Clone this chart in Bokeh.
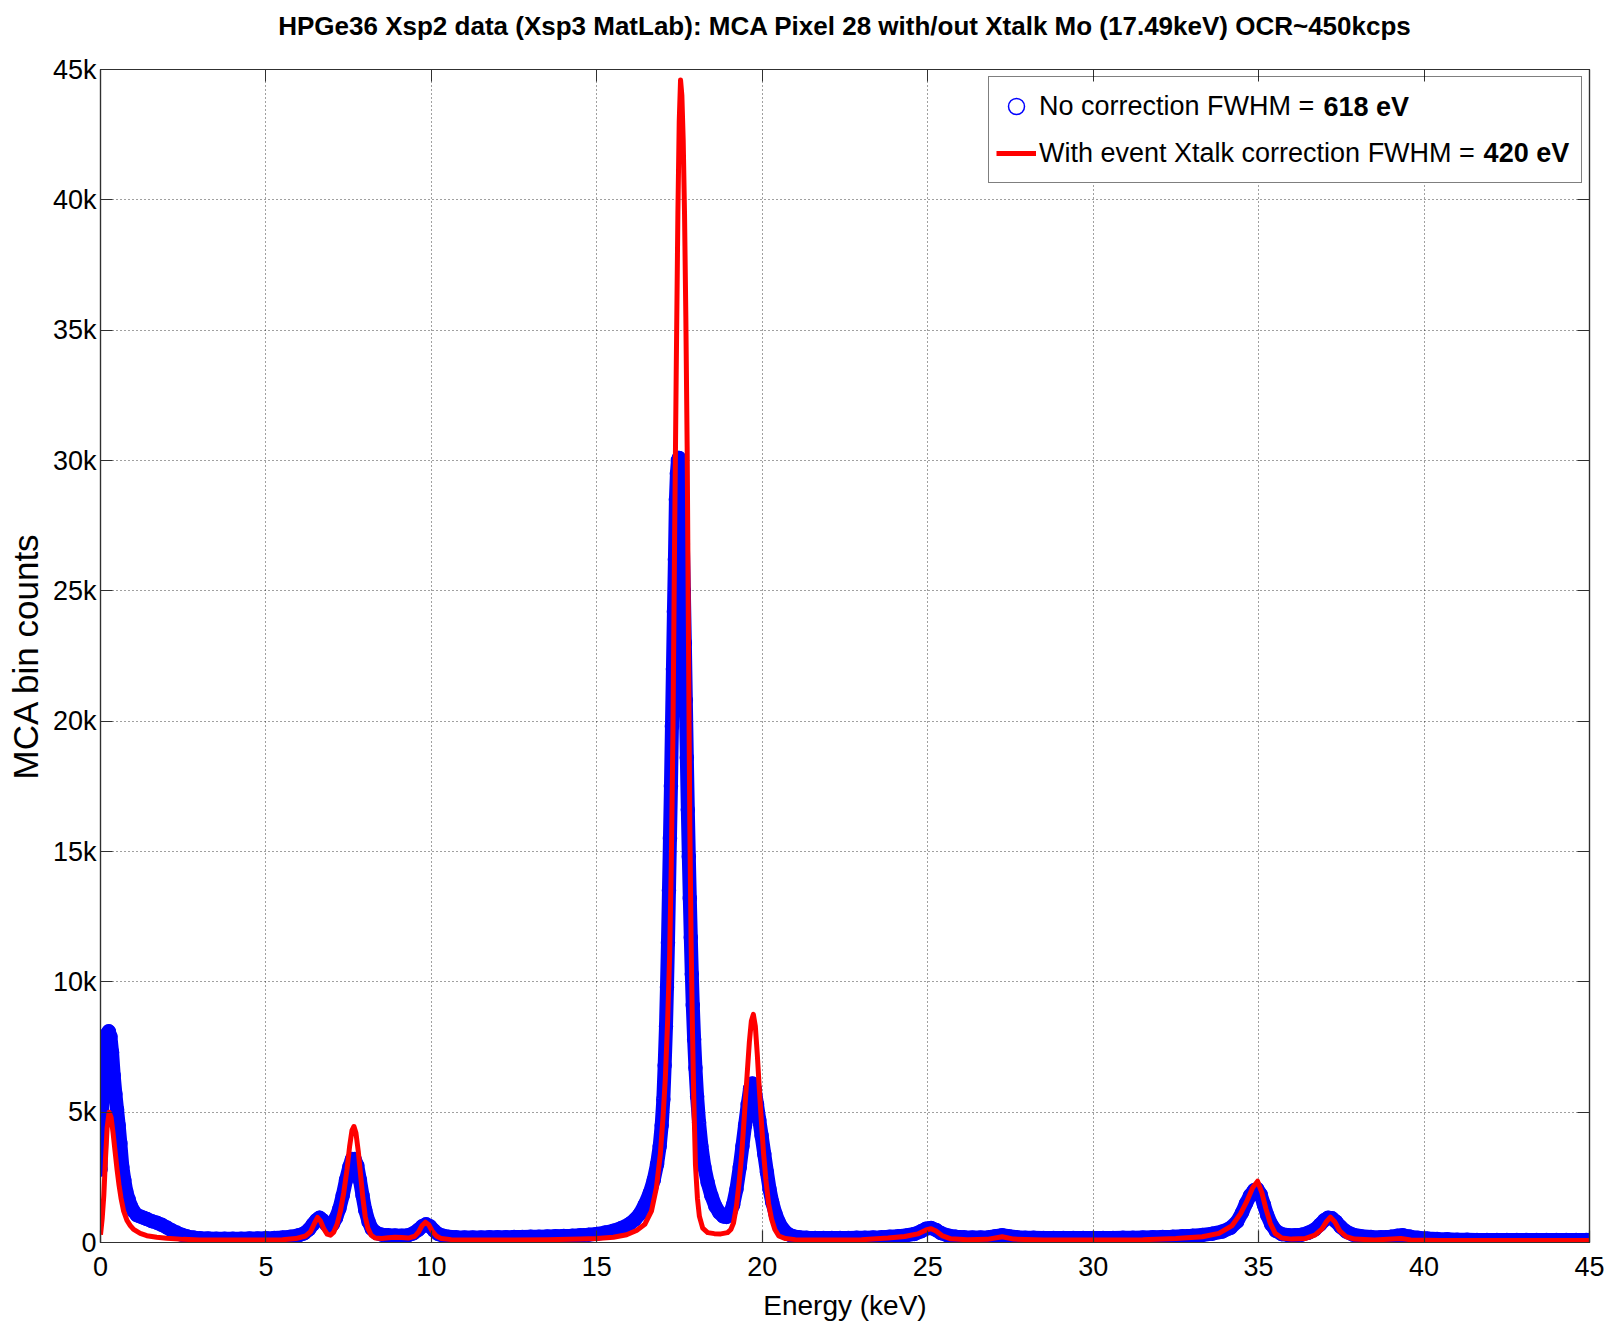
from bokeh.plotting import figure
from bokeh.models import (FixedTicker, LinearAxis, Range1d, Legend, LegendItem,
                          Label, ColumnDataSource, BoxAnnotation)
from bokeh.embed import file_html
from bokeh.resources import INLINE

# ---- spectrum without crosstalk correction (keV, counts) ----
e_nocorr = [
    0.00, 0.03, 0.06, 0.10, 0.15, 0.20, 0.25, 0.30, 0.35, 0.40, 0.45, 0.50, 0.55, 0.60,
    0.66, 0.72, 0.78, 0.85, 0.92, 1.00, 1.10, 1.20, 1.30, 1.40, 1.55, 1.70, 1.85, 2.00,
    2.15, 2.30, 2.45, 2.60, 2.80, 3.00, 3.25, 3.50, 3.75, 4.00, 4.25, 4.50, 4.75, 5.00,
    5.25, 5.50, 5.75, 6.00, 6.15, 6.30, 6.42, 6.52, 6.62, 6.72, 6.82, 6.92, 7.02, 7.12,
    7.22, 7.32, 7.42, 7.52, 7.60, 7.68, 7.76, 7.84, 7.92, 8.00, 8.10, 8.20, 8.35, 8.50,
    8.70, 8.90, 9.10, 9.30, 9.45, 9.60, 9.72, 9.84, 9.96, 10.08, 10.20, 10.35, 10.50,
    10.75, 11.00, 11.25, 11.50, 11.75, 12.00, 12.25, 12.50, 12.75, 13.00, 13.25, 13.50,
    13.75, 14.00, 14.25, 14.50, 14.75, 15.00, 15.25, 15.50, 15.75, 16.00, 16.15, 16.30,
    16.45, 16.60, 16.72, 16.82, 16.90, 16.96, 17.01, 17.05, 17.09, 17.12, 17.15, 17.18,
    17.21, 17.24, 17.27, 17.30, 17.33, 17.36, 17.39, 17.42, 17.45, 17.48, 17.51, 17.54,
    17.57, 17.60, 17.63, 17.66, 17.69, 17.72, 17.75, 17.78, 17.81, 17.84, 17.87, 17.90,
    17.94, 17.98, 18.03, 18.09, 18.16, 18.25, 18.35, 18.46, 18.58, 18.70, 18.82, 18.92,
    19.02, 19.12, 19.22, 19.32, 19.40, 19.48, 19.56, 19.63, 19.70, 19.77, 19.84, 19.91,
    19.98, 20.06, 20.14, 20.22, 20.30, 20.40, 20.50, 20.62, 20.75, 20.90, 21.10, 21.35,
    21.60, 21.85, 22.10, 22.35, 22.60, 22.85, 23.10, 23.35, 23.60, 23.85, 24.10, 24.35,
    24.60, 24.80, 24.95, 25.10, 25.25, 25.40, 25.60, 25.85, 26.10, 26.35, 26.60, 26.85,
    27.05, 27.25, 27.45, 27.70, 27.95, 28.20, 28.50, 28.80, 29.10, 29.40, 29.70, 30.00,
    30.30, 30.60, 30.90, 31.20, 31.50, 31.80, 32.10, 32.40, 32.70, 33.00, 33.30, 33.60,
    33.90, 34.15, 34.35, 34.50, 34.62, 34.74, 34.86, 34.96, 35.06, 35.16, 35.26, 35.38,
    35.52, 35.70, 35.90, 36.10, 36.30, 36.50, 36.70, 36.85, 36.98, 37.10, 37.22, 37.34,
    37.48, 37.65, 37.85, 38.10, 38.40, 38.70, 39.00, 39.20, 39.35, 39.55, 39.80, 40.10,
    40.40, 40.70, 41.00, 41.30, 41.60, 41.90, 42.20, 42.50, 42.80, 43.10, 43.40, 43.70,
    44.00, 44.30, 44.60, 44.90, 45.00,
]
counts_nocorr = [
    2800, 4200, 5600, 6800, 7600, 8000, 8100, 7900, 7300, 6400, 5700, 5100, 4500, 3800,
    2900, 2400, 1950, 1650, 1400, 1200, 1050, 1000, 950, 900, 820, 760, 680, 580,
    470, 380, 300, 240, 190, 160, 150, 140, 140, 140, 145, 150, 150, 160,
    170, 190, 220, 280, 350, 500, 700, 850, 950, 850, 700, 620, 700, 950,
    1300, 1800, 2400, 2900, 3200, 3200, 2950, 2400, 1800, 1250, 800, 520, 360, 300,
    280, 270, 260, 280, 350, 480, 620, 700, 620, 460, 330, 260, 220,
    200, 190, 190, 190, 200, 200, 200, 210, 210, 220, 220, 230,
    240, 250, 260, 280, 300, 330, 380, 450, 560, 720, 880, 1100,
    1450, 1900, 2400, 3000, 3700, 4500, 5500, 6800, 8300, 9800, 11500, 13500,
    15500, 17500, 19800, 22000, 24200, 26200, 28500, 29500, 30000, 30100, 29900, 29300,
    28300, 26800, 25000, 23000, 20800, 18600, 16600, 14800, 13200, 11700, 10300, 9100,
    7800, 6700, 5600, 4600, 3700, 2900, 2300, 1800, 1400, 1150, 1000, 980,
    1100, 1450, 2050, 2900, 3700, 4500, 5300, 5900, 6100, 5900, 5300, 4700,
    4100, 3400, 2700, 2050, 1550, 1100, 780, 520, 350, 250, 200, 180,
    170, 170, 170, 170, 175, 180, 185, 190, 200, 220, 240, 270,
    330, 430, 530, 560, 480, 360, 270, 220, 200, 190, 190, 200,
    240, 280, 240, 200, 185, 180, 175, 175, 170, 170, 170, 170,
    170, 175, 180, 185, 190, 200, 210, 220, 240, 260, 290, 340,
    420, 560, 800, 1150, 1500, 1800, 2000, 2050, 1850, 1450, 1050, 700,
    450, 320, 280, 280, 300, 370, 500, 680, 850, 950, 930, 800,
    600, 420, 300, 240, 210, 200, 220, 260, 280, 230, 180, 150,
    130, 120, 110, 105, 100, 100, 100, 100, 100, 100, 100, 100,
    100, 100, 100, 100, 100,
]

# ---- spectrum with event crosstalk correction (keV, counts) ----
e_xtalk = [
    0.00, 0.05, 0.10, 0.15, 0.20, 0.26, 0.32, 0.38, 0.44, 0.50, 0.56, 0.62, 0.70, 0.80,
    0.90, 1.00, 1.20, 1.40, 1.70, 2.00, 2.50, 3.00, 4.00, 5.00, 5.50, 5.90, 6.20, 6.35,
    6.47, 6.56, 6.65, 6.75, 6.85, 6.95, 7.05, 7.15, 7.25, 7.35, 7.45, 7.53, 7.60, 7.66,
    7.72, 7.79, 7.86, 7.93, 8.00, 8.08, 8.18, 8.30, 8.50, 8.70, 8.90, 9.10, 9.30, 9.50,
    9.62, 9.72, 9.82, 9.92, 10.02, 10.15, 10.30, 10.60, 11.50, 12.50, 13.50, 14.50,
    15.00, 15.50, 15.90, 16.20, 16.45, 16.65, 16.80, 16.92, 17.00, 17.07, 17.14, 17.20,
    17.25, 17.30, 17.35, 17.40, 17.45, 17.49, 17.53, 17.57, 17.61, 17.65, 17.69, 17.73,
    17.77, 17.81, 17.85, 17.89, 17.93, 17.98, 18.04, 18.10, 18.20, 18.35, 18.55, 18.75,
    18.95, 19.05, 19.13, 19.22, 19.30, 19.38, 19.46, 19.54, 19.61, 19.67, 19.73, 19.79,
    19.85, 19.91, 19.97, 20.04, 20.11, 20.19, 20.28, 20.38, 20.50, 20.70, 21.00, 22.00,
    23.00, 23.80, 24.30, 24.70, 24.95, 25.10, 25.25, 25.45, 25.70, 26.20, 26.80, 27.25,
    27.60, 28.50, 30.00, 31.50, 32.50, 33.30, 33.80, 34.20, 34.45, 34.65, 34.82, 34.97,
    35.10, 35.22, 35.35, 35.50, 35.70, 36.00, 36.40, 36.70, 36.90, 37.05, 37.17, 37.30,
    37.45, 37.65, 37.90, 38.50, 39.30, 39.60, 40.50, 42.00, 43.50, 45.00,
]
counts_xtalk = [
    300, 900, 1800, 3200, 4400, 5000, 4800, 4200, 3500, 2800, 2200, 1700, 1200, 850,
    650, 500, 350, 260, 200, 160, 120, 100, 100, 100, 110, 150, 250, 420,
    750, 960, 820, 520, 320, 280, 400, 700, 1200, 1900, 2800, 3700, 4300, 4450,
    4200, 3500, 2600, 1700, 1000, 550, 280, 170, 150, 180, 200, 190, 170, 240,
    420, 650, 780, 680, 450, 250, 150, 110, 100, 100, 110, 130,
    150, 200, 300, 460, 700, 1200, 2100, 3400, 4800, 6300, 8500, 11000,
    14500, 19500, 27000, 33500, 39500, 43000, 44600, 44000, 42300, 39500, 35500, 30500,
    23000, 16000, 11500, 8200, 5500, 3000, 1700, 1000, 550, 380, 340, 330,
    380, 500, 750, 1400, 2300, 3400, 4900, 6400, 7700, 8500, 8750, 8300,
    7200, 5900, 4700, 3400, 2400, 1500, 900, 500, 250, 150, 110, 100,
    110, 170, 230, 330, 480, 530, 440, 250, 140, 110, 120, 220,
    130, 100, 100, 110, 150, 220, 350, 650, 1100, 1600, 2100, 2350,
    1900, 1300, 750, 350, 170, 130, 150, 280, 500, 800, 970, 800,
    450, 220, 130, 100, 150, 100, 80, 80, 80, 80,
]

# ---- axis ticks ----
x_ticks = [0, 5, 10, 15, 20, 25, 30, 35, 40, 45]
y_ticks = [0, 5000, 10000, 15000, 20000, 25000, 30000, 35000, 40000, 45000]
y_tick_labels = ["0", "5k", "10k", "15k", "20k", "25k", "30k", "35k", "40k", "45k"]

title_text = ("HPGe36 Xsp2 data (Xsp3 MatLab): MCA Pixel 28 with/out Xtalk Mo "
              "(17.49keV) OCR~450kcps")
legend_labels = ["No correction FWHM = ", "With event Xtalk correction FWHM = "]
legend_values = ["618 eV", "420 eV"]

FONT = "Liberation Sans"
BLUE = "#0000ff"
RED = "#ff0000"
AXIS_COLOR = "#303030"

p = figure(width=1612, height=1330, output_backend="svg", toolbar_location=None,
           title=None, x_range=Range1d(0, 45), y_range=Range1d(0, 45000),
           min_border_left=100, min_border_right=23, min_border_top=69,
           min_border_bottom=88, background_fill_color="white",
           border_fill_color="white")

src_nc = ColumnDataSource(dict(e=e_nocorr, c=counts_nocorr))
src_xt = ColumnDataSource(dict(e=e_xtalk, c=counts_xtalk))

# uncorrected spectrum: dense hollow circles on a solid band
p.line("e", "c", source=src_nc, line_color=BLUE, line_width=14,
       line_join="round", line_cap="round")
r_circ = p.scatter("e", "c", source=src_nc, marker="circle", size=13,
                   line_color=BLUE, line_width=1.5, fill_color=None)
# corrected spectrum
r_red = p.line("e", "c", source=src_xt, line_color=RED, line_width=5,
               line_join="round")

xt = FixedTicker(ticks=x_ticks)
yt = FixedTicker(ticks=y_ticks)

for ax in p.xaxis:
    ax.ticker = xt
for ax in p.yaxis:
    ax.ticker = yt
p.xgrid.ticker = xt
p.ygrid.ticker = yt

p.yaxis.major_label_overrides = {t: s for t, s in zip(y_ticks, y_tick_labels)}

for ax in list(p.xaxis) + list(p.yaxis):
    ax.axis_line_color = AXIS_COLOR
    ax.axis_line_width = 1.2
    ax.major_tick_line_color = AXIS_COLOR
    ax.major_tick_line_width = 1.2
    ax.major_tick_in = 12
    ax.major_tick_out = 0
    ax.minor_tick_in = 0
    ax.minor_tick_out = 0
    ax.major_label_text_font = FONT
    ax.major_label_text_font_size = "27px"
    ax.major_label_text_color = "black"
    ax.axis_label_text_font_style = "normal"
    ax.axis_label_text_color = "black"

p.xaxis.major_label_standoff = 14
p.yaxis.major_label_standoff = 4
p.xaxis.axis_label = "Energy (keV)"
p.xaxis.axis_label_text_font = FONT
p.xaxis.axis_label_text_font_size = "28px"
p.xaxis.axis_label_standoff = 11
p.yaxis.axis_label = "MCA bin counts"
p.yaxis.axis_label_text_font = FONT
p.yaxis.axis_label_text_font_size = "35px"
p.yaxis.axis_label_standoff = 5

# box ticks on the top edge; its axis label carries the chart heading
top_ax = LinearAxis(ticker=xt, major_label_overrides={t: "" for t in x_ticks},
                    major_tick_in=12, major_tick_out=0, minor_tick_in=0,
                    minor_tick_out=0, axis_line_color=AXIS_COLOR,
                    major_tick_line_color=AXIS_COLOR, axis_line_width=1.2,
                    major_label_standoff=0,
                    axis_label=title_text, axis_label_text_font=FONT,
                    axis_label_text_font_size="26px",
                    axis_label_text_font_style="bold",
                    axis_label_text_color="black", axis_label_standoff=29)
# box ticks on the right edge (no labels)
right_ax = LinearAxis(ticker=yt, major_label_overrides={t: "" for t in y_ticks},
                      major_tick_in=12, major_tick_out=0, minor_tick_in=0,
                      minor_tick_out=0, axis_line_color=AXIS_COLOR,
                      major_tick_line_color=AXIS_COLOR, axis_line_width=1.2,
                      major_label_standoff=0)
p.add_layout(top_ax, "above")
p.add_layout(right_ax, "right")

for g in (p.xgrid, p.ygrid):
    g.grid_line_color = "black"
    g.grid_line_alpha = 0.75
    g.grid_line_dash = "1 3"
    g.grid_line_width = 1

p.outline_line_color = AXIS_COLOR
p.outline_line_width = 1.2

# opaque backing for the legend area, so grid lines stay hidden behind it
p.add_layout(BoxAnnotation(left=26.80, right=44.78, bottom=40620, top=44780,
                           fill_color="white", fill_alpha=1.0, line_alpha=0,
                           level="underlay"))

legend = Legend(
    items=[LegendItem(label=legend_labels[0], renderers=[r_circ]),
           LegendItem(label=legend_labels[1], renderers=[r_red])],
    location="top_right", margin=7, padding=7, spacing=3,
    glyph_width=40, glyph_height=44, label_height=44, label_width=535,
    label_standoff=3, label_text_font=FONT, label_text_font_size="27px",
    label_text_color="black", border_line_color="black", border_line_width=1.2,
    background_fill_alpha=0.0,
)
p.add_layout(legend)

# bold FWHM values following each legend entry
for lx, ly, txt in [(36.96, 43580, legend_values[0]), (41.80, 41780, legend_values[1])]:
    p.add_layout(Label(x=lx, y=ly, text=txt, text_font=FONT, text_font_size="27px",
                       text_font_style="bold", text_baseline="middle",
                       text_align="left", text_color="black"))

open("out.html", "w").write(file_html(p, INLINE))
